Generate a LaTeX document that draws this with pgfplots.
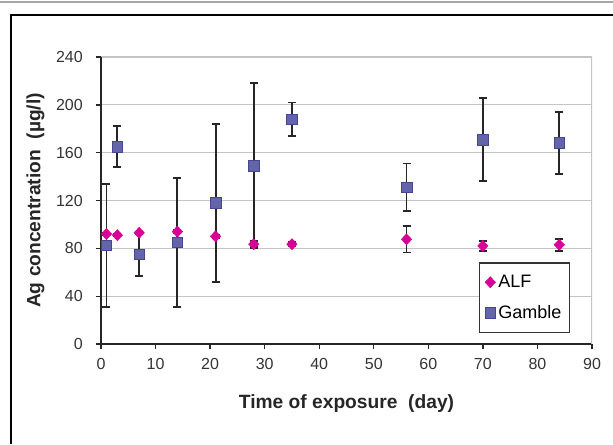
\documentclass[border=0pt]{standalone}
\usepackage{fontspec}
\setmainfont{Liberation Sans}
\usepackage{pgfplots}
\pgfplotsset{compat=1.18}
\definecolor{alfmag}{HTML}{D60096}
\definecolor{gamfill}{HTML}{6464AA}
\definecolor{gamedge}{HTML}{46468C}
\definecolor{gridgray}{HTML}{C4C4C4}

\begin{document}
\begin{tikzpicture}
% 1px = 0.75pt, picture 613x444 px
\useasboundingbox (0,0) rectangle (459.75pt,333pt);
\draw[gray!70,line width=1.2pt] (0,331.5pt) -- (459.75pt,331.5pt);
\draw[black,line width=2pt] (8.25pt,0) -- (8.25pt,321.75pt) -- (459.75pt,321.75pt);
\begin{axis}[
  at={(75.75pt,75pt)},
  anchor=south west,
  scale only axis,
  width=368.25pt,
  height=215.25pt,
  xmin=0, xmax=90,
  ymin=0, ymax=240,
  xtick={0,10,...,90},
  ytick={0,40,...,240},
  axis lines=left,
  axis line style={-,black!85,line width=1.2pt},
  tick align=outside,
  major tick length=4pt,
  tick style={black!85,line width=1pt},
  ymajorgrids,
  grid style={gridgray,line width=0.9pt},
  /pgf/number format/assume math mode=true,
  ticklabel style={font=\fontsize{12}{14}\selectfont,text=black!80},
  yticklabel style={inner sep=0pt,xshift=-9.5pt},
  xticklabel style={inner sep=0pt,yshift=-6.5pt},
  xlabel={\textbf{Time of exposure\ \ (day)}},
  ylabel={\textbf{Ag concentration\ \ (µg/l)}},
  label style={font=\fontsize{14.4}{16}\selectfont,text=black!85},
  xlabel style={anchor=center,at={(axis description cs:0.5,-0.209)}},
  ylabel style={anchor=center,rotate=0,at={(axis description cs:-0.1335,0.5)}},
  reverse legend,
  legend style={
    at={(axis description cs:0.955,0.038)},
    anchor=south east,
    draw=black!80,
    line width=0.9pt,
    font=\fontsize{13.5}{16}\selectfont,
    row sep=8pt,
    inner xsep=4pt,
    inner ysep=7pt,
    legend cell align=left,
  },
  legend image post style={line width=0.4pt},
]
\draw[gridgray,line width=0.9pt] (rel axis cs:1,0) -- (rel axis cs:1,1);
\addplot[only marks,mark=square*,mark size=4pt,
  mark options={fill=gamfill,draw=gamedge,line width=0.5pt},
  error bars/.cd,y dir=both,y explicit,
  error bar style={black!85,line width=1.4pt},
  error mark options={rotate=90,mark size=3pt,black!85,line width=1.4pt}]
  coordinates {
  (1,82.5) +- (0,51.5)
  (3,165) +- (0,17)
  (7,75) +- (0,18)
  (14,85) +- (0,54)
  (21,118) +- (0,66)
  (28,149) +- (0,69)
  (35,188) +- (0,14)
  (56,131) +- (0,20)
  (70,171) +- (0,35)
  (84,168) +- (0,26)
  };
\addlegendentry{Gamble}
\addplot[only marks,mark=diamond*,mark size=4.2pt,
  mark options={fill=alfmag,draw=alfmag,line width=0.3pt,xscale=1.25},
  error bars/.cd,y dir=both,y explicit,
  error bar style={black!85,line width=1.4pt},
  error mark options={rotate=90,mark size=3pt,black!85,line width=1.4pt}]
  coordinates {
  (1,92) +- (0,1)
  (3,91) +- (0,1)
  (7,93) +- (0,1)
  (14,94) +- (0,1)
  (21,90) +- (0,1)
  (28,83.5) +- (0,2.5)
  (35,83.5) +- (0,2)
  (56,87.5) +- (0,11)
  (70,82) +- (0,4)
  (84,83) +- (0,5)
  };
\addlegendentry{ALF}
\end{axis}
\end{tikzpicture}
\end{document}
